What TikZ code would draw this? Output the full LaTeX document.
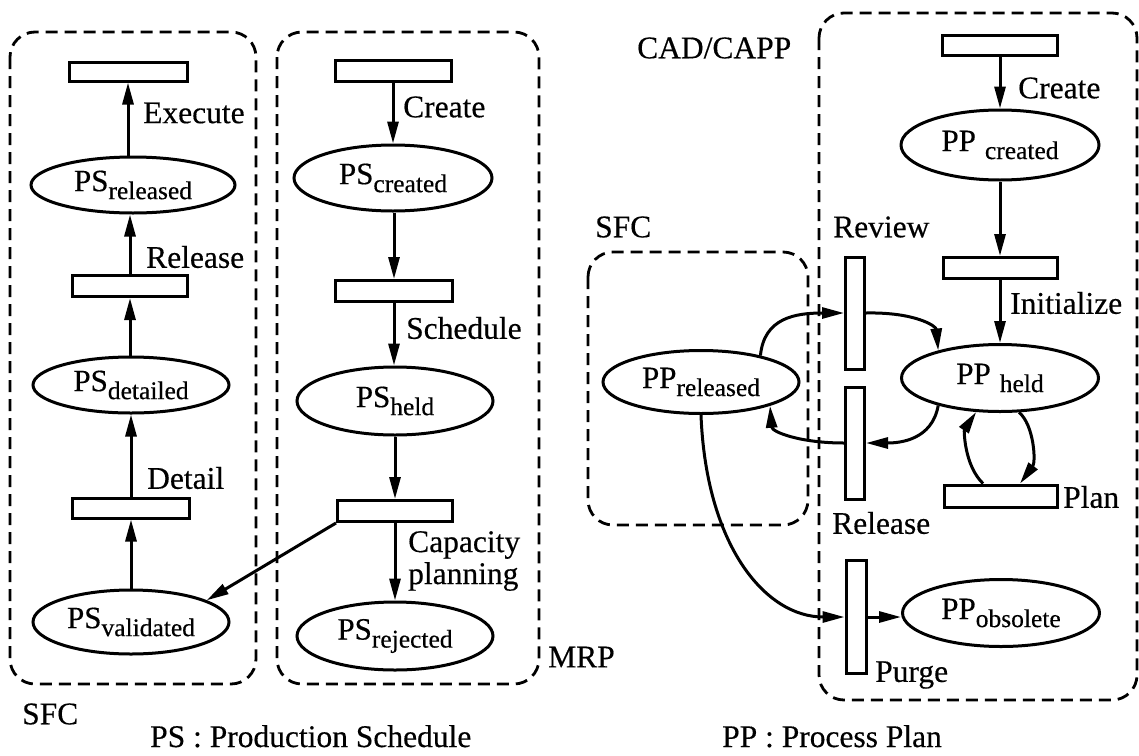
\documentclass[tikz,border=0pt]{standalone}
\usepackage{fontspec}
\setmainfont{Liberation Serif}[FakeBold=0.4]
\usetikzlibrary{arrows.meta,shapes.geometric}
% lowered, slightly smaller state qualifier
\newcommand\lowsub[1]{\raisebox{-8pt}{\fontsize{25.5}{27}\selectfont #1}}
\tikzset{
  state/.style={ellipse, draw, line width=3pt, inner sep=0pt,
    font=\fontsize{31}{34}\selectfont},
  trans/.style={rectangle, draw, line width=3pt, inner sep=0pt},
  lbl/.style={anchor=west, inner sep=0pt, font=\fontsize{31.5}{32}\selectfont},
  flow/.style={line width=3pt, -{Triangle[length=22pt,width=11pt]}},
  zone/.style={dash pattern=on 12pt off 7pt, line width=2.8pt, rounded corners=25pt},
}
\begin{document}
\begin{tikzpicture}[x=1pt,y=-1pt]
\useasboundingbox (0,0) rectangle (1139,755);

% ---- dashed subsystem boundaries
\draw[zone] (10,32) rectangle (256,684);
\draw[zone] (277,32) rectangle (539,684);
\draw[zone] (588,252) rectangle (808,525);
\draw[zone] (819,13) rectangle (1137,700);

% ---- Production schedule, SFC side
\node[trans, minimum width=118pt, minimum height=19pt] (L1) at (128,71.5) {};
\node[state, minimum width=204pt, minimum height=56pt] (PSrel) at (133,185) {PS\lowsub{released}};
\node[trans, minimum width=115pt, minimum height=21pt] (L2) at (130,286) {};
\node[state, minimum width=196pt, minimum height=56pt] (PSdet) at (131,385) {PS\lowsub{detailed}};
\node[trans, minimum width=117pt, minimum height=20pt] (L3) at (131,508) {};
\node[state, minimum width=196pt, minimum height=64pt] (PSval) at (131,622) {PS\lowsub{validated}};

\draw[flow] (PSrel.north -| L1) -- (L1.south);
\draw[flow] (L2.north) -- (L2.north |- PSrel.south);
\draw[flow] (PSdet.north -| L2) -- (L2.south);
\draw[flow] (L3.north) -- (L3.north |- PSdet.south);
\draw[flow] (PSval.north -| L3) -- (L3.south);

\node[lbl] (tExec) at (143,113) {Execute};
\node[lbl] (tRelL) at (146,257) {Release};
\node[lbl] (tDet) at (147,478) {Detail};

% ---- Production schedule, MRP side
\node[trans, minimum width=116pt, minimum height=21pt] (M1) at (393,71) {};
\node[state, minimum width=198pt, minimum height=66pt] (PScre) at (393,178) {PS\lowsub{created}};
\node[trans, minimum width=117pt, minimum height=21pt] (M2) at (394,291) {};
\node[state, minimum width=196pt, minimum height=68pt] (PShld) at (395,401) {PS\lowsub{held}};
\node[trans, minimum width=115pt, minimum height=21pt] (M3) at (395,511) {};
\node[state, minimum width=196pt, minimum height=68pt] (PSrej) at (395,636) {PS\lowsub{rejected}};

\draw[flow] (M1.south) -- (M1.south |- PScre.north);
\draw[flow] (PScre.south -| M2) -- (M2.north);
\draw[flow] (M2.south) -- (M2.south |- PShld.north);
\draw[flow] (PShld.south -| M3) -- (M3.north);
\draw[flow] (M3.south) -- (M3.south |- PSrej.north);
\draw[flow] (M3.south west) -- (PSval.16);

\node[lbl] (tCreM) at (403,107) {Create};
\node[lbl] (tSch) at (406,328) {Schedule};
\node[lbl, align=left] (tCap) at (408,561) {Capacity\\planning};

% ---- Process plan, CAD/CAPP side
\node[trans, minimum width=115pt, minimum height=20pt] (R1) at (1000,45) {};
\node[state, minimum width=198pt, minimum height=70pt] (PPcre) at (1000,145) {PP\hspace{9pt}\lowsub{created}};
\node[trans, minimum width=114pt, minimum height=21pt] (R2) at (1000,268) {};
\node[state, minimum width=197pt, minimum height=67pt] (PPhld) at (1000,378) {PP\hspace{9pt}\lowsub{held}};
\node[trans, minimum width=113pt, minimum height=22pt] (Plan) at (1001,496) {};
\node[state, minimum width=197pt, minimum height=67pt] (PPobs) at (1001,613) {PP\lowsub{obsolete}};

\node[trans, minimum width=19pt, minimum height=112pt] (Rev) at (855,313) {};
\node[trans, minimum width=19pt, minimum height=112pt] (Rel) at (855,443) {};
\node[trans, minimum width=20pt, minimum height=113pt] (Pur) at (856,617) {};

% ---- Process plan, SFC side
\node[state, minimum width=196pt, minimum height=63pt] (PPrel) at (701,382) {PP\lowsub{released}};

\draw[flow] (R1.south) -- (R1.south |- PPcre.north);
\draw[flow] (PPcre.south) -- (R2.north);
\draw[flow] (R2.south) -- (R2.south |- PPhld.north);

\draw[flow] (PPrel.24) .. controls (764,318) and (795,313) .. (Rev.west);
\draw[flow] (Rev.east) .. controls (915,312) and (936,326) .. (PPhld.156);
\draw[flow] (PPhld.204) .. controls (932,440) and (900,443) .. (Rel.east);
\draw[flow] (Rel.west) .. controls (800,443) and (772,432) .. (PPrel.-19);
\draw[flow] (PPrel.south) .. controls (706,545) and (765,617) .. (Pur.west);
\draw[flow] (Pur.east) -- (Pur.east -| PPobs.west);
\draw[flow] ([xshift=-18pt]Plan.north) .. controls (964,465) and (964,430) .. (PPhld.235);
\draw[flow] (PPhld.-61) .. controls (1034,425) and (1036,462) .. ([xshift=19pt]Plan.north);

\node[lbl] (tCreR) at (1018,88) {Create};
\node[lbl] (tRev) at (833,227) {Review};
\node[lbl] (tIni) at (1010,303) {Initialize};
\node[lbl] (tPlan) at (1063,497) {Plan};
\node[lbl] (tRelR) at (832,523) {Release};
\node[lbl] (tPur) at (875,675) {Purge};

% ---- subsystem names and legend
\node[lbl] (nCAD) at (637,48) {CAD/CAPP};
\node[lbl] (nSFCm) at (595,227) {SFC};
\node[lbl] (nMRP) at (548,657) {MRP};
\node[lbl] (nSFCl) at (22,714) {SFC};
\node[lbl, anchor=base west] (legPS) at (150,747) {PS : Production Schedule};
\node[lbl, anchor=base west] (legPP) at (722,747) {PP : Process Plan};
\end{tikzpicture}
\end{document}
